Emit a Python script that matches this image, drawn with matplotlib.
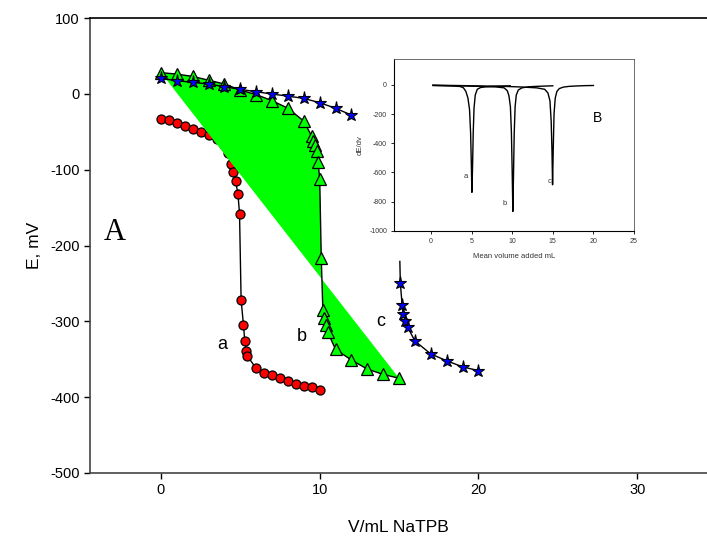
import matplotlib
matplotlib.use("Agg")
import matplotlib.pyplot as plt

plt.rcParams['font.family'] = ['Liberation Sans', 'DejaVu Sans']
plt.rcParams['axes.unicode_minus'] = False

# main titration curves (V / mL NaTPB, E / mV)
a_x = [0, 0.5, 1, 1.5, 2, 2.5, 3, 3.5, 4, 4.2, 4.4, 4.55, 4.7, 4.85, 4.95,
       5.05, 5.2, 5.28, 5.38, 5.45, 6, 6.5, 7, 7.5, 8, 8.5, 9, 9.5, 10]
a_y = [-33, -35, -39, -42, -46, -50, -54, -60, -68, -78, -92, -103, -115, -132, -158,
       -272, -305, -326, -339, -346, -362, -368, -371, -375, -379, -383, -385, -387, -391]

b_x = [0, 1, 2, 3, 4, 5, 6, 7, 8, 9, 9.5, 9.6, 9.7, 9.8, 9.9, 10.0,
       10.1, 10.2, 10.3, 10.4, 10.5, 11, 12, 13, 14, 15]
b_y = [28, 26, 23, 18, 13, 5, -1, -9, -19, -36, -56, -62, -68, -76, -90, -112,
       -217, -285, -296, -305, -314, -337, -351, -363, -370, -375]

c1_x = [0, 1, 2, 3, 4, 5, 6, 7, 8, 9, 10, 11, 12]
c1_y = [20.5, 17.3, 15.2, 13, 9.4, 5.9, 2.8, -0.3, -3, -6, -11.7, -19, -28]
c2_x = [15.05, 15.08, 15.19, 15.27, 15.4, 15.55, 16, 17, 18, 19, 20]
c2_y = [-221, -249, -278, -290, -300, -308, -326, -343, -352, -360, -365]

# inset: first derivative vs mean volume
da_x = [0.25, 1, 2, 3, 3.6, 4.0, 4.3, 4.55, 4.75, 4.88, 4.96, 5.04, 5.12, 5.2,
        5.3, 5.45, 5.7, 6.1, 6.7, 7.5, 8.5, 9.75]
da_y = [-4, -5, -6, -8, -11, -20, -45, -90, -170, -330, -520, -737, -560, -330,
        -160, -70, -30, -18, -13, -10, -8, -6]
db_x = [0.25, 2, 4, 6, 8, 9.0, 9.4, 9.6, 9.78, 9.9, 10.0, 10.08, 10.16, 10.25,
        10.36, 10.5, 10.75, 11.2, 12, 13, 14, 15]
db_y = [-3, -5, -7, -10, -14, -20, -40, -75, -150, -320, -600, -868, -620, -330,
        -150, -70, -35, -20, -13, -10, -8, -6]
dc_x = [0.25, 3, 6, 9, 11, 13, 14.0, 14.4, 14.65, 14.8, 14.9, 14.97, 15.05, 15.15,
        15.3, 15.5, 15.8, 16.3, 17, 18, 19, 20]
dc_y = [-2, -4, -7, -10, -14, -20, -30, -55, -110, -250, -460, -685, -450, -200,
        -90, -45, -25, -15, -10, -7, -5, -4]

fig = plt.figure(figsize=(7.07, 5.46), dpi=100)
ax = fig.add_axes([0.1273, 0.1337, 0.8727, 0.8333])

ax.plot(a_x, a_y, '-', color='black', lw=1, marker='o', ms=6.5,
        mfc='#ff0000', mec='black', mew=0.9, zorder=2)
ax.fill(b_x, b_y, color='#00ff00', lw=0, zorder=3)
ax.plot(b_x, b_y, '-', color='black', lw=1, marker='^', ms=8.5,
        mfc='#00ff00', mec='black', mew=0.9, zorder=4)
ax.plot(c1_x, c1_y, '-', color='black', lw=1, marker='*', ms=9.5,
        mfc='#0000ff', mec='black', mew=0.8, zorder=5)
ax.plot(c2_x, c2_y, '-', color='black', lw=1, marker='*', ms=9.5,
        mfc='#0000ff', mec='black', mew=0.8, markevery=list(range(1, len(c2_x))), zorder=5)

ax.text(3.88, -331, 'a', fontsize=13, ha='center', va='center')
ax.text(8.88, -320, 'b', fontsize=13, ha='center', va='center')
ax.text(13.87, -300, 'c', fontsize=13, ha='center', va='center')
ax.text(-2.9, -183, 'A', fontsize=22, family=['Liberation Serif'], ha='center', va='center')

ax.set_xlim(-4.47, 34.4)
ax.set_ylim(-500, 100)
ax.set_xticks([0, 10, 20, 30])
ax.set_yticks(range(-500, 101, 100))
ax.tick_params(direction='out', length=4, width=1, labelsize=10.5, colors='black')
ax.spines['right'].set_visible(False)
for s in ['left', 'bottom']:
    ax.spines[s].set_color('#444444')
    ax.spines[s].set_linewidth(1.2)
ax.spines['top'].set_linewidth(1.2)
ax.set_xlabel('V/mL NaTPB', fontsize=12.5, labelpad=16)
ax.set_ylabel('E, mV', fontsize=12.5, labelpad=6)

ins = fig.add_axes([0.5573, 0.5775, 0.3395, 0.3145])
ins.plot(da_x, da_y, color='black', lw=1)
ins.plot(db_x, db_y, color='black', lw=1)
ins.plot(dc_x, dc_y, color='black', lw=1)
ins.text(4.3, -629, 'a', fontsize=5.5, ha='center', va='center', color='#333333')
ins.text(9.1, -812, 'b', fontsize=5.5, ha='center', va='center', color='#333333')
ins.text(14.6, -664, 'c', fontsize=5.5, ha='center', va='center', color='#333333')
ins.text(20.5, -226, 'B', fontsize=10, ha='center', va='center')
ins.set_xlim(-4.55, 25)
ins.set_ylim(-1000, 178)
ins.set_xticks([0, 5, 10, 15, 20, 25])
ins.set_yticks(range(-1000, 1, 200))
ins.tick_params(direction='out', length=2, width=0.6, labelsize=5, pad=3,
                labelcolor='#333333')
for s in ['top', 'right']:
    ins.spines[s].set_linewidth(0.6)
    ins.spines[s].set_color('#555555')
ins.set_xlabel('Mean volume added mL', fontsize=5.5, labelpad=6, color='#333333')
ins.set_ylabel('dE/dv', fontsize=5.5, labelpad=4, color='#333333')

fig.savefig('out.png', dpi=100)
